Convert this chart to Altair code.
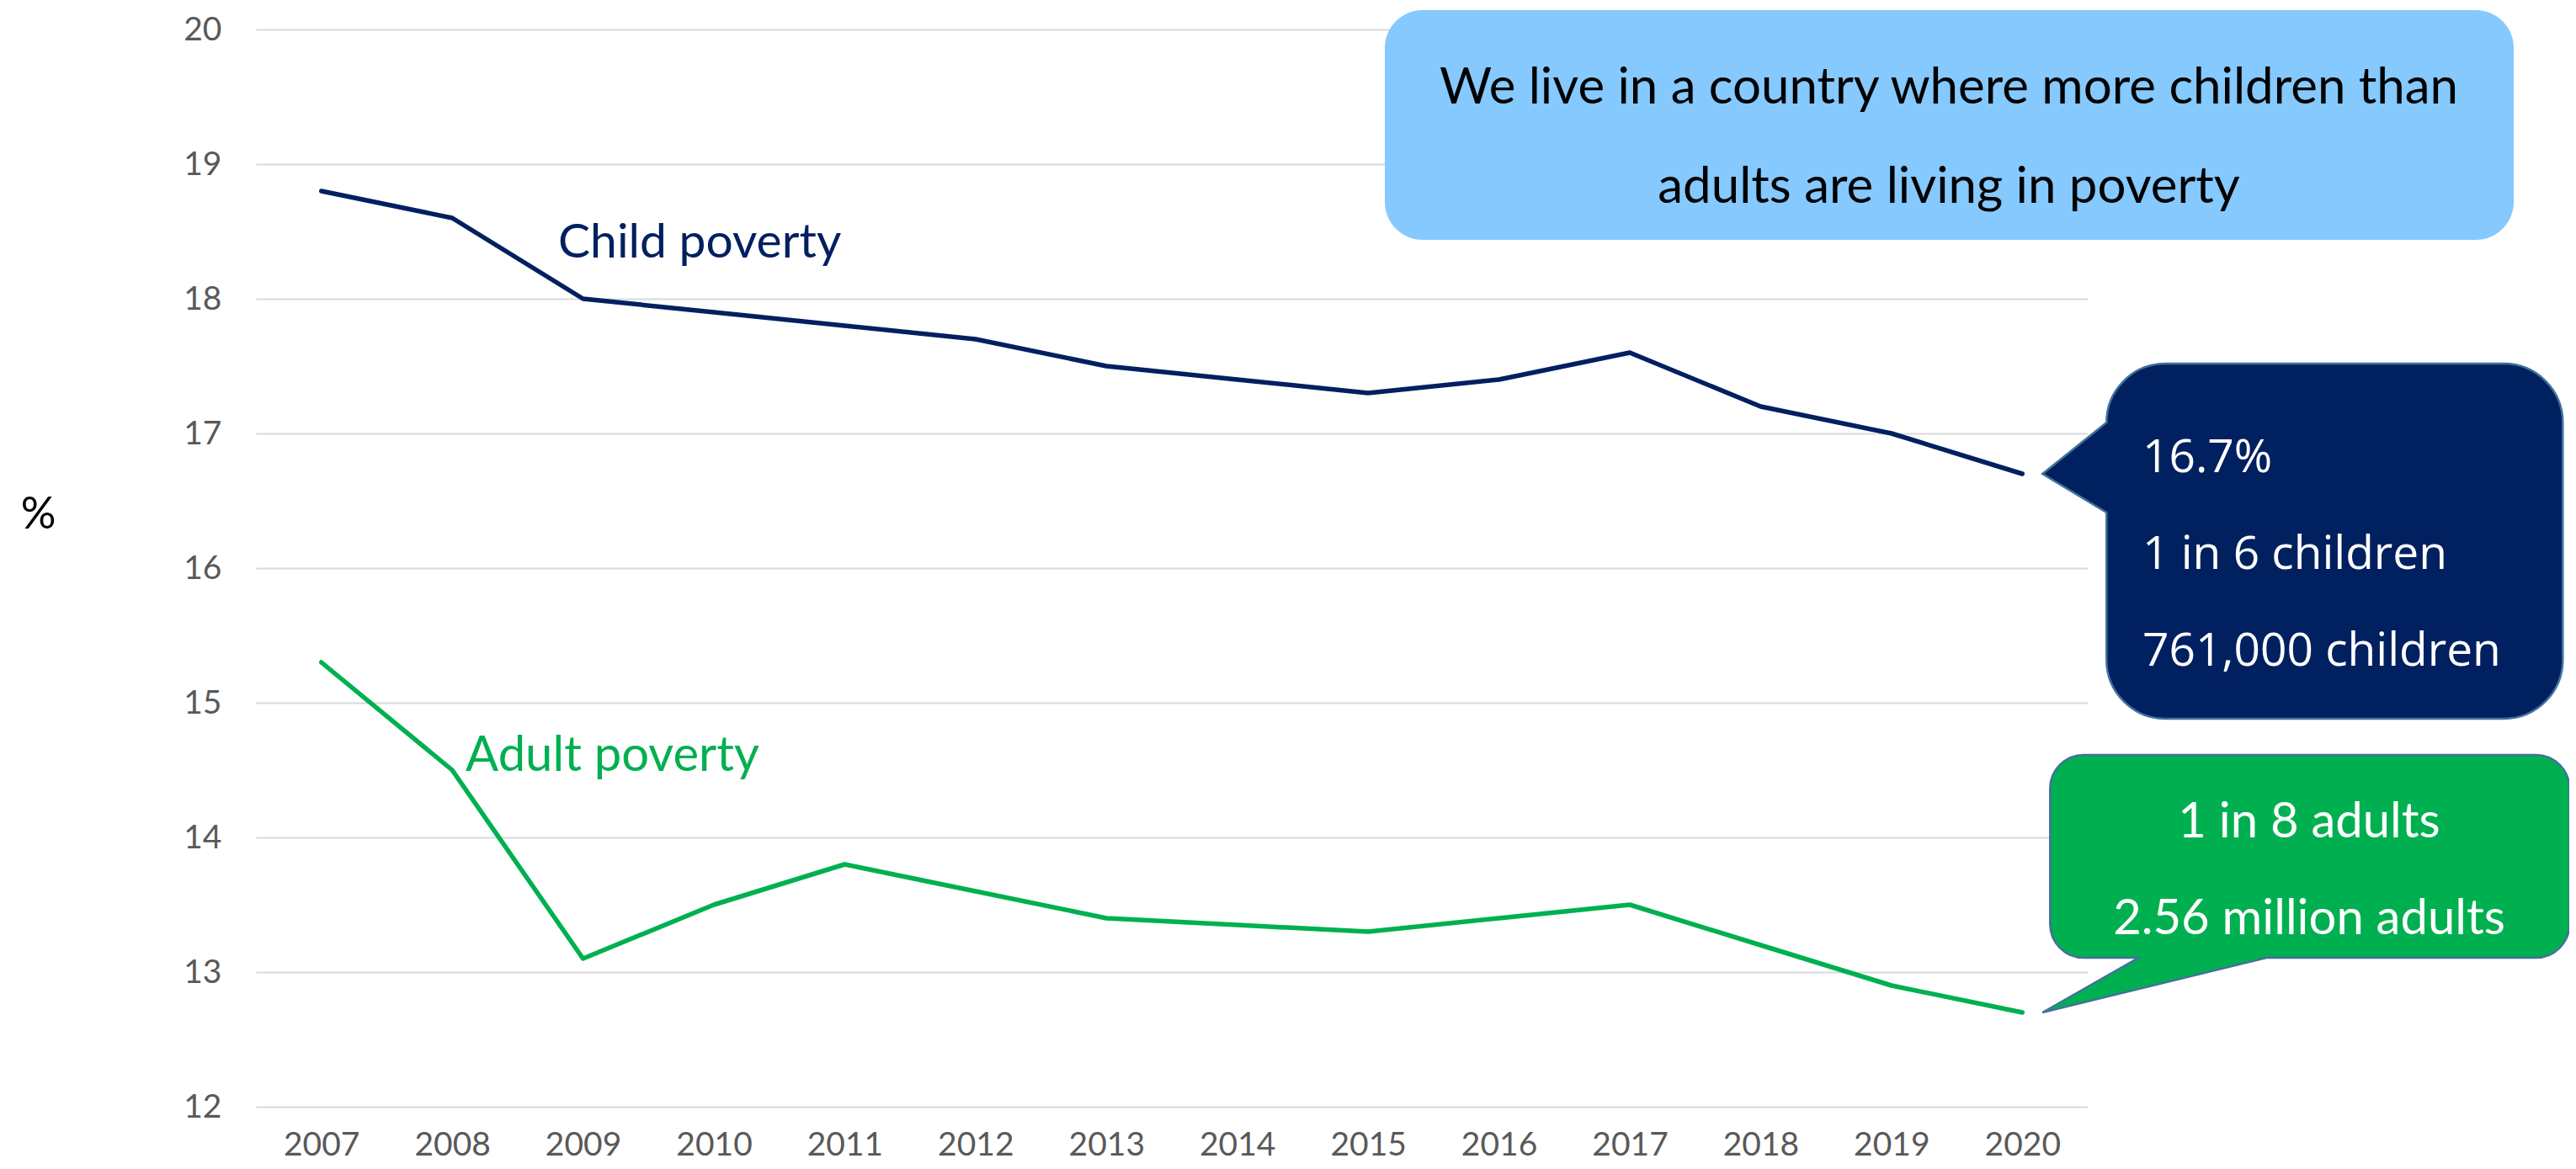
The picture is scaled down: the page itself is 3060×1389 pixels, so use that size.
import altair as alt
import pandas as pd

# ---- data ----
years = ["2007", "2008", "2009", "2010", "2011", "2012", "2013",
         "2014", "2015", "2016", "2017", "2018", "2019", "2020"]
child_poverty = [18.8, 18.6, 18.0, 17.9, 17.8, 17.7, 17.5,
                 17.4, 17.3, 17.4, 17.6, 17.2, 17.0, 16.7]
adult_poverty = [15.3, 14.5, 13.1, 13.5, 13.8, 13.6, 13.4,
                 13.35, 13.3, 13.4, 13.5, 13.2, 12.9, 12.7]
y_ticks = [12, 13, 14, 15, 16, 17, 18, 19, 20]

series_names = ["Child poverty", "Adult poverty"]
series_colors = ["#002060", "#00B050"]

headline = ["We live in a country where more children than",
            "adults are living in poverty"]
child_callout = ["16.7%", "1 in 6 children", "761,000 children"]
adult_callout = ["1 in 8 adults", "2.56 million adults"]

NAVY = "#002060"
GREEN = "#00B050"
LIGHT_BLUE = "#85C9FE"
OUTLINE = "#41719C"
FONT = "Lato"

rows = []
for y, c, a in zip(years, child_poverty, adult_poverty):
    rows.append({"year": y, "value": c, "series": series_names[0]})
    rows.append({"year": y, "value": a, "series": series_names[1]})
df = pd.DataFrame(rows)

last_child = pd.DataFrame([{"year": years[-1], "value": child_poverty[-1]}])
last_adult = pd.DataFrame([{"year": years[-1], "value": adult_poverty[-1]}])
one = pd.DataFrame([{"k": 0}])

x_enc = alt.X("year:O", sort=years, title=None,
              scale=alt.Scale(domain=years),
              axis=alt.Axis(labelAngle=0, domain=False, ticks=False, grid=False,
                            labelFont=FONT, labelFontSize=39, labelColor="#595959",
                            labelPadding=26))
y_enc = alt.Y("value:Q", title="%",
              scale=alt.Scale(domain=[12, 20], nice=False, zero=False),
              axis=alt.Axis(values=y_ticks, format="d", domain=False, ticks=False, grid=True,
                            gridColor="#D9D9D9", gridWidth=2,
                            labelFont=FONT, labelFontSize=39, labelColor="#595959",
                            labelPadding=41,
                            titleAngle=0, titleX=-259, titleY=576,
                            titleAlign="center", titleBaseline="middle",
                            titleFont=FONT, titleFontSize=52,
                            titleFontWeight="normal", titleColor="#000000"))

lines = alt.Chart(df).mark_line(strokeWidth=5.5, strokeJoin="round", strokeCap="round").encode(
    x=x_enc,
    y=y_enc,
    color=alt.Color("series:N", scale=alt.Scale(domain=series_names, range=series_colors),
                    legend=None),
    detail="series:N",
)

# callout shapes anchored at the 2020 data points (path in pixels, tip 24px right of point)
child_path = ("M24,0 L100,-61 C100,-99.6 131.4,-131 170,-131 L572,-131 "
              "C610.6,-131 642,-99.6 642,-61 L642,221 C642,259.6 610.6,291 572,291 "
              "L170,291 C131.4,291 100,259.6 100,221 L100,46 Z")
adult_path = ("M24,0 L138,-65 L73,-65 C50.9,-65 33,-82.9 33,-105 L33,-266 "
              "C33,-288.1 50.9,-306 73,-306 L610,-306 C632.1,-306 650,-288.1 650,-266 "
              "L650,-105 C650,-82.9 632.1,-65 610,-65 L290,-65 Z")

child_box = alt.Chart(last_child).mark_point(
    shape=child_path, size=4, filled=True, fill=NAVY, stroke=OUTLINE,
    strokeWidth=2.5, opacity=1, fillOpacity=1, strokeOpacity=1
).encode(x=alt.X("year:O", sort=years), y="value:Q")

adult_box = alt.Chart(last_adult).mark_point(
    shape=adult_path, size=4, filled=True, fill=GREEN, stroke=OUTLINE,
    strokeWidth=2.5, opacity=1, fillOpacity=1, strokeOpacity=1
).encode(x=alt.X("year:O", sort=years), y="value:Q")

head_box = alt.Chart(one).mark_rect(color=LIGHT_BLUE, cornerRadius=45).encode(
    x=alt.value(1341), x2=alt.value(2682), y=alt.value(-23), y2=alt.value(250)
)

texts = []
for line, yy in zip(headline, [70, 188]):
    texts.append(alt.Chart(one).mark_text(
        text=line, font=FONT, fontSize=60, color="#000000",
        align="center", baseline="middle").encode(x=alt.value(2011), y=alt.value(yy)))

for line, yy in zip(child_callout, [526, 641, 756]):
    texts.append(alt.Chart(one).mark_text(
        text=line, font="Open Sans", fontSize=55, color="#FFFFFF",
        align="left", baseline="alphabetic").encode(x=alt.value(2241), y=alt.value(yy)))

for line, yy in zip(adult_callout, [960, 1075]):
    texts.append(alt.Chart(one).mark_text(
        text=line, font=FONT, fontSize=58, color="#FFFFFF",
        align="center", baseline="alphabetic").encode(x=alt.value(2439), y=alt.value(yy)))

texts.append(alt.Chart(one).mark_text(
    text=series_names[0], font=FONT, fontSize=57, color=NAVY,
    align="left", baseline="alphabetic").encode(x=alt.value(359), y=alt.value(271)))
texts.append(alt.Chart(one).mark_text(
    text=series_names[1], font=FONT, fontSize=58, color=GREEN,
    align="left", baseline="alphabetic").encode(x=alt.value(249), y=alt.value(881)))

chart = alt.layer(lines, head_box, child_box, adult_box, *texts).properties(
    width=2176, height=1280,
    autosize=alt.AutoSizeParams(type="none"),
    padding={"left": 296, "top": 27, "right": 572, "bottom": 66},
    background="#FFFFFF",
).configure_view(stroke=None)

chart.save("out.html", embed_options={"renderer": "svg", "actions": False})
